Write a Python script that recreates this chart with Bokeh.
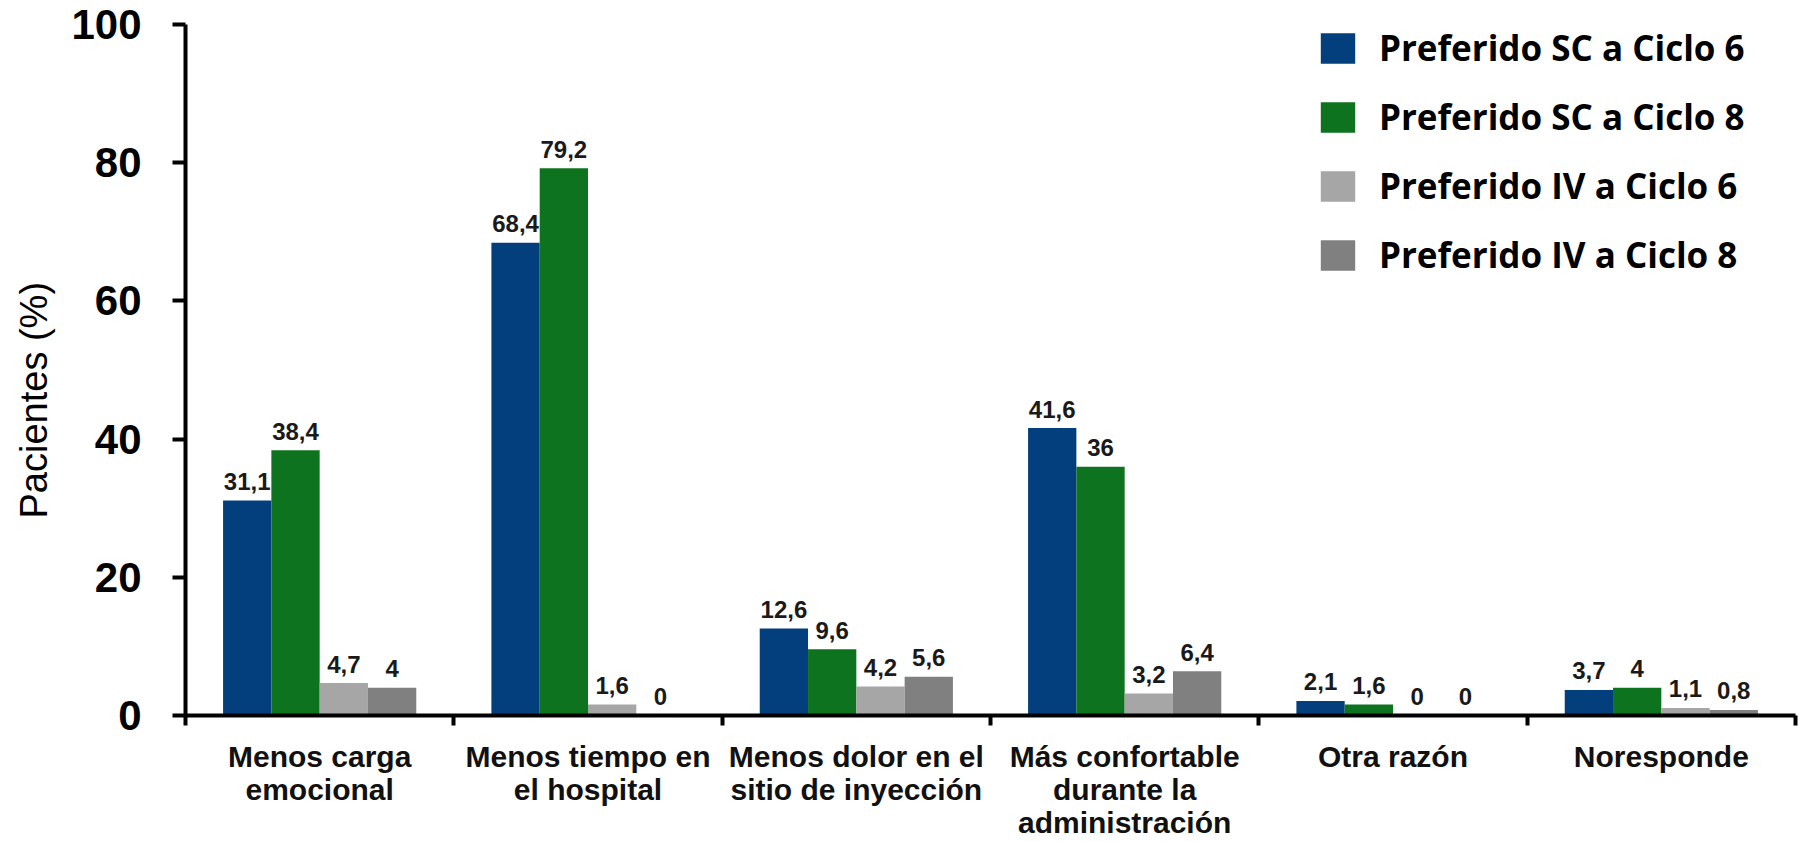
from bokeh.plotting import figure
from bokeh.models import (ColumnDataSource, Range1d, FixedTicker, LinearAxis,
                          Legend, LegendItem, Title)
from bokeh.transform import dodge
from bokeh.core.properties import value
from bokeh.embed import file_html
from bokeh.resources import INLINE

# ---- data ----
categories = [
    "Menos carga\nemocional",
    "Menos tiempo en\nel hospital",
    "Menos dolor en el\nsitio de inyección",
    "Más confortable\ndurante la\nadministración",
    "Otra razón",
    "Noresponde",
]
series_names = [
    "Preferido SC a Ciclo 6",
    "Preferido SC a Ciclo 8",
    "Preferido IV a Ciclo 6",
    "Preferido IV a Ciclo 8",
]
sc_ciclo6 = [31.1, 68.4, 12.6, 41.6, 2.1, 3.7]
sc_ciclo8 = [38.4, 79.2, 9.6, 36.0, 1.6, 4.0]
iv_ciclo6 = [4.7, 1.6, 4.2, 3.2, 0.0, 1.1]
iv_ciclo8 = [4.0, 0.0, 5.6, 6.4, 0.0, 0.8]
y_ticks = [0, 20, 40, 60, 80, 100]
y_axis_title = "Pacientes (%)"

colors = ["#023F7C", "#0D731F", "#A6A6A6", "#808080"]


def fmt(v):
    if float(v).is_integer():
        return str(int(v))
    return f"{v:.1f}".replace(".", ",")


series = [sc_ciclo6, sc_ciclo8, iv_ciclo6, iv_ciclo8]
data = dict(center=[i + 0.5 for i in range(len(categories))])
for k, s in enumerate(series):
    data[f"v{k}"] = s
    data[f"t{k}"] = [fmt(v) for v in s]
src = ColumnDataSource(data)

p = figure(width=1799, height=842,
           x_range=Range1d(0, len(categories)), y_range=Range1d(0, 100),
           output_backend="svg", toolbar_location=None,
           x_axis_location=None, y_axis_location=None,
           min_border_left=183, min_border_right=4,
           min_border_top=24, min_border_bottom=127)
p.outline_line_color = None
p.background_fill_color = "white"
p.border_fill_color = "white"
p.grid.visible = False
p.grid.grid_line_color = None

bar_w = 0.18
offsets = [-0.27, -0.09, 0.09, 0.27]
items = []
for k in range(4):
    r = p.vbar(x=dodge("center", offsets[k]), top=f"v{k}", width=bar_w,
               source=src, fill_color=colors[k], line_color=None)
    p.text(x=dodge("center", offsets[k]), y=f"v{k}", text=f"t{k}", source=src,
           text_align="center", text_baseline="alphabetic", y_offset=-19,
           text_font=value("Liberation Sans"), text_font_style="bold",
           text_font_size="24px", text_color="#1a1a1a")
    items.append(LegendItem(label=series_names[k], renderers=[r]))

yaxis = LinearAxis(ticker=FixedTicker(ticks=y_ticks),
                   axis_line_width=4, axis_line_color="black",
                   major_tick_line_width=4, major_tick_out=13, major_tick_in=0,
                   minor_tick_out=0, minor_tick_in=0,
                   major_label_standoff=31,
                   major_label_text_font="Liberation Sans",
                   major_label_text_font_style="bold",
                   major_label_text_font_size="42px",
                   major_label_text_color="black")
p.add_layout(yaxis, "left")

# y-axis title, placed a little below the middle of the axis as in the original
p.add_layout(Title(text=y_axis_title, align="left", vertical_align="top",
                   offset=197, standoff=24,
                   text_font="Liberation Sans", text_font_style="normal",
                   text_font_size="38px", text_color="black"), "left")

xaxis = LinearAxis(ticker=FixedTicker(ticks=[i + 0.5 for i in range(len(categories))],
                                      minor_ticks=list(range(len(categories) + 1))),
                   major_label_overrides={i + 0.5: c for i, c in enumerate(categories)},
                   axis_line_width=4, axis_line_color="black",
                   major_tick_out=0, major_tick_in=0,
                   minor_tick_out=10, minor_tick_in=0, minor_tick_line_width=4,
                   minor_tick_line_color="black",
                   major_label_standoff=14,
                   major_label_text_font="Liberation Sans",
                   major_label_text_font_style="bold",
                   major_label_text_font_size="30px",
                   major_label_text_line_height=1.0,
                   major_label_text_color="#111111")
p.add_layout(xaxis, "below")

legend = Legend(items=items, location=(1131, 437),
                glyph_width=43, glyph_height=38, label_height=38,
                spacing=22, label_standoff=20, padding=0, margin=0,
                border_line_alpha=0, background_fill_alpha=0,
                label_text_font="Open Sans", label_text_font_style="bold",
                label_text_font_size="35px", label_text_color="black")
p.add_layout(legend)

open("out.html", "w").write(file_html(p, INLINE))
